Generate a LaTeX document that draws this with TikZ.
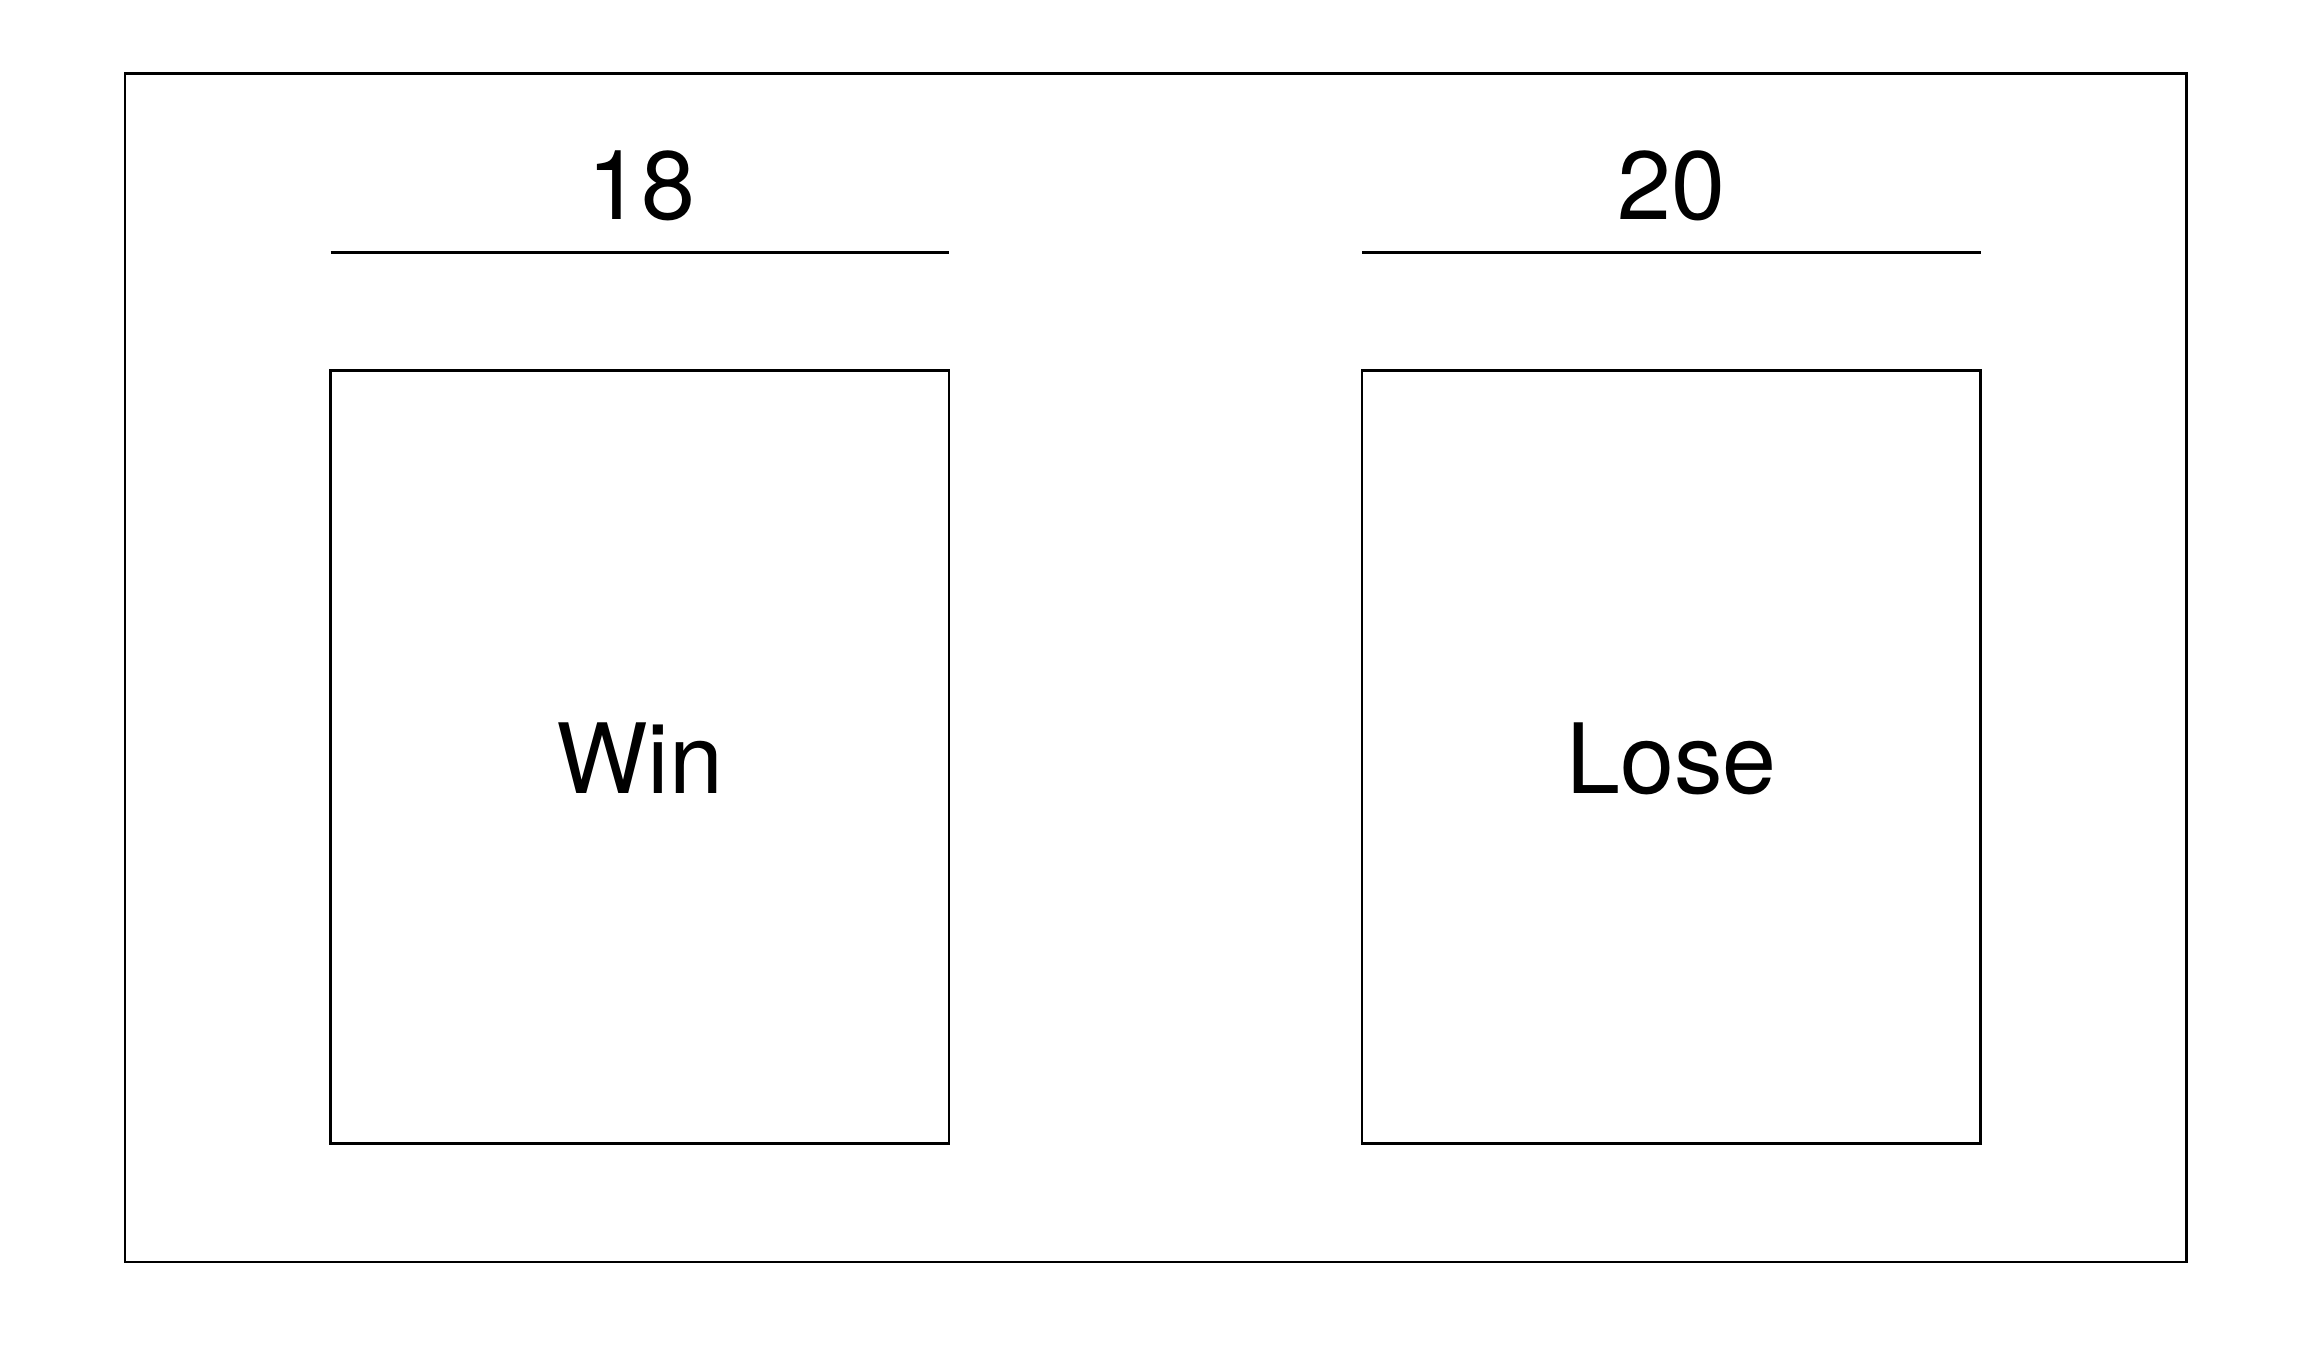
\documentclass[tikz,border=0pt]{standalone}
\usepackage{fontspec}
\setmainfont{TeX Gyre Heros}
\begin{document}
\begin{tikzpicture}[x=1pt,y=-1pt,
  frame/.style={draw=black,line width=2.5pt},
  card/.style={draw=black,line width=2.5pt,minimum width=618.6pt,minimum height=772.9pt,inner sep=0pt},
  score/.style={font=\fontsize{97}{116}\selectfont,anchor=base,inner sep=0pt},
  rule/.style={draw=black,line width=2.5pt}]
\useasboundingbox (0,0) rectangle (2304,1344);
\draw[frame] (124.9,73.5) rectangle (2186.5,1262.2);
\node[card] (win) at (639.9,756.8) {};
\node[card] (lose) at (1671.4,756.8) {};
\node[score] (winlabel) at (win.center |- 0,793) {Win};
\node[score] (loselabel) at (lose.center |- 0,793) {Lose};
\coordinate (l1) at (330.6,252.7);
\coordinate (r1) at (949.2,252.7);
\coordinate (l2) at (1362,252.7);
\coordinate (r2) at (1980.8,252.7);
\draw[rule] (l1) -- (r1);
\draw[rule] (l2) -- (r2);
\node[score] (s18) at (641,219.5) {18};
\node[score] (s20) at (1671.4,219.5) {20};
\end{tikzpicture}
\end{document}
